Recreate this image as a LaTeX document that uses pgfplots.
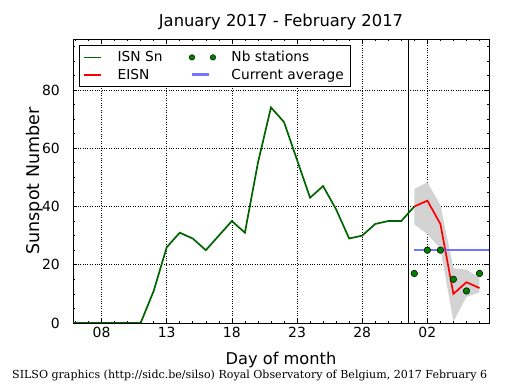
\documentclass[border=0pt]{standalone}
\usepackage{fontspec}
\setmainfont{DejaVu Sans}
\newfontfamily\seriffont{DejaVu Serif}
\usepackage{pgfplots}
\pgfplotsset{compat=1.18}
\definecolor{isngreen}{RGB}{0,100,0}
\definecolor{stgreen}{RGB}{0,128,0}
\definecolor{avgblue}{RGB}{102,102,255}
\definecolor{bandgray}{RGB}{211,211,211}
\newcommand\tickf{\fontsize{14}{16}\selectfont}
\newcommand\legf{\fontsize{13.8}{16}\selectfont}
\newcommand\xlabf{\fontsize{16.3}{19}\selectfont}
\newcommand\ylabf{\fontsize{17.6}{20}\selectfont}
\newcommand\titf{\fontsize{16.4}{19}\selectfont}
\begin{document}
\begin{tikzpicture}
\begin{axis}[
  name=ax,
  scale only axis,
  width=416bp, height=284bp,
  xmin=5.81, xmax=37.73,
  ymin=0, ymax=97.5,
  /pgf/number format/assume math mode=true,
  xtick={8,13,18,23,28,33},
  xticklabels={08,13,18,23,28,02},
  minor xtick={6,7,...,37},
  ytick={0,20,40,60,80},
  minor ytick={5,10,...,95},
  tick align=inside,
  major tick length=4.5bp,
  minor tick length=2.2bp,
  every tick/.style={black, line width=0.6bp},
  axis line style={black, line width=0.9bp},
  grid=major,
  major grid style={black, dotted, line width=0.6bp},
  tick label style={font=\tickf},
  xticklabel style={inner sep=0pt, yshift=-4bp},
  yticklabel style={inner sep=0pt, xshift=-13bp},
  title={January 2017 - February 2017},
  title style={at={(0.5,1)}, anchor=base, yshift=6.5bp, inner sep=0pt, font=\titf},
  xlabel={Day of month},
  xlabel style={at={(0.5,0)}, anchor=base, yshift=-41bp, inner sep=0pt, font=\xlabf},
  ylabel={Sunspot Number},
  ylabel style={at={(0,0.5)}, anchor=base, rotate=0, yshift=33bp, inner sep=0pt, font=\ylabf},
  legend columns=2,
  transpose legend,
  legend cell align=left,
  legend style={at={(0,1)}, anchor=north west, xshift=6bp, yshift=-6.5bp,
    draw=black, line width=0.8bp, inner xsep=4bp, inner ysep=3bp,
    font=\legf, row sep=0.5bp,
    nodes={inner sep=2.5bp},
    /tikz/every odd column/.append style={column sep=13bp},
    /tikz/every even column/.append style={column sep=24bp}},
]
% uncertainty band
\addplot[fill=bandgray, draw=none, forget plot] coordinates {
  (32,46) (33,48.3) (34,40.5) (35,18.8) (36,18.3) (37,15.5)
  (37,10.5) (36,9) (35,0.5) (34,25.5) (33,30.5) (32,33.8)} -- cycle;
% vertical separator
\addplot[black, line width=1bp, forget plot] coordinates {(31.54,0) (31.54,97.5)};
% ISN
\addplot[isngreen, line width=1.7bp] coordinates {
  (5,0) (6,0) (7,0) (8,0) (9,0) (10,0) (11,0) (12,11) (13,26) (14,31)
  (15,29) (16,25) (17,30) (18,35) (19,31) (20,55) (21,74) (22,69) (23,56)
  (24,43) (25,47) (26,39) (27,29) (28,30) (29,34) (30,35) (31,35) (32,40)};
\addlegendentry{ISN Sn}
% EISN
\addplot[red, line width=1.7bp] coordinates {
  (32,40) (33,42) (34,34) (35,10) (36,14) (37,12)};
\addlegendentry{EISN}
% Nb stations
\addplot[only marks, mark=*, mark size=3.3bp, mark options={fill=stgreen, draw=black, line width=0.5bp},
  legend image code/.code={
   \path[fill=stgreen, draw=black, line width=0.4bp] (0bp,0bp) circle (2.8bp);
   \path[fill=stgreen, draw=black, line width=0.4bp] (21bp,0bp) circle (2.8bp);}] coordinates {
  (32,17) (33,25) (34,25) (35,15) (36,11) (37,17)};
\addlegendentry{Nb stations}
% current average
\addplot[avgblue, opacity=0.9, line width=2.6bp] coordinates {(32,25) (38,25)};
\addlegendentry{Current average}
\end{axis}
\node[anchor=base west, inner sep=0pt, font=\seriffont\fontsize{11.1}{13}\selectfont] at ([shift={(-61bp,-55.7bp)}]ax.south west)
  {SILSO graphics (http://sidc.be/silso) Royal Observatory of Belgium, 2017 February 6};
\pgfresetboundingbox
\path ([shift={(-73bp,-67bp)}]ax.south west) rectangle ([shift={(26bp,39bp)}]ax.north east);
\end{tikzpicture}
\end{document}
